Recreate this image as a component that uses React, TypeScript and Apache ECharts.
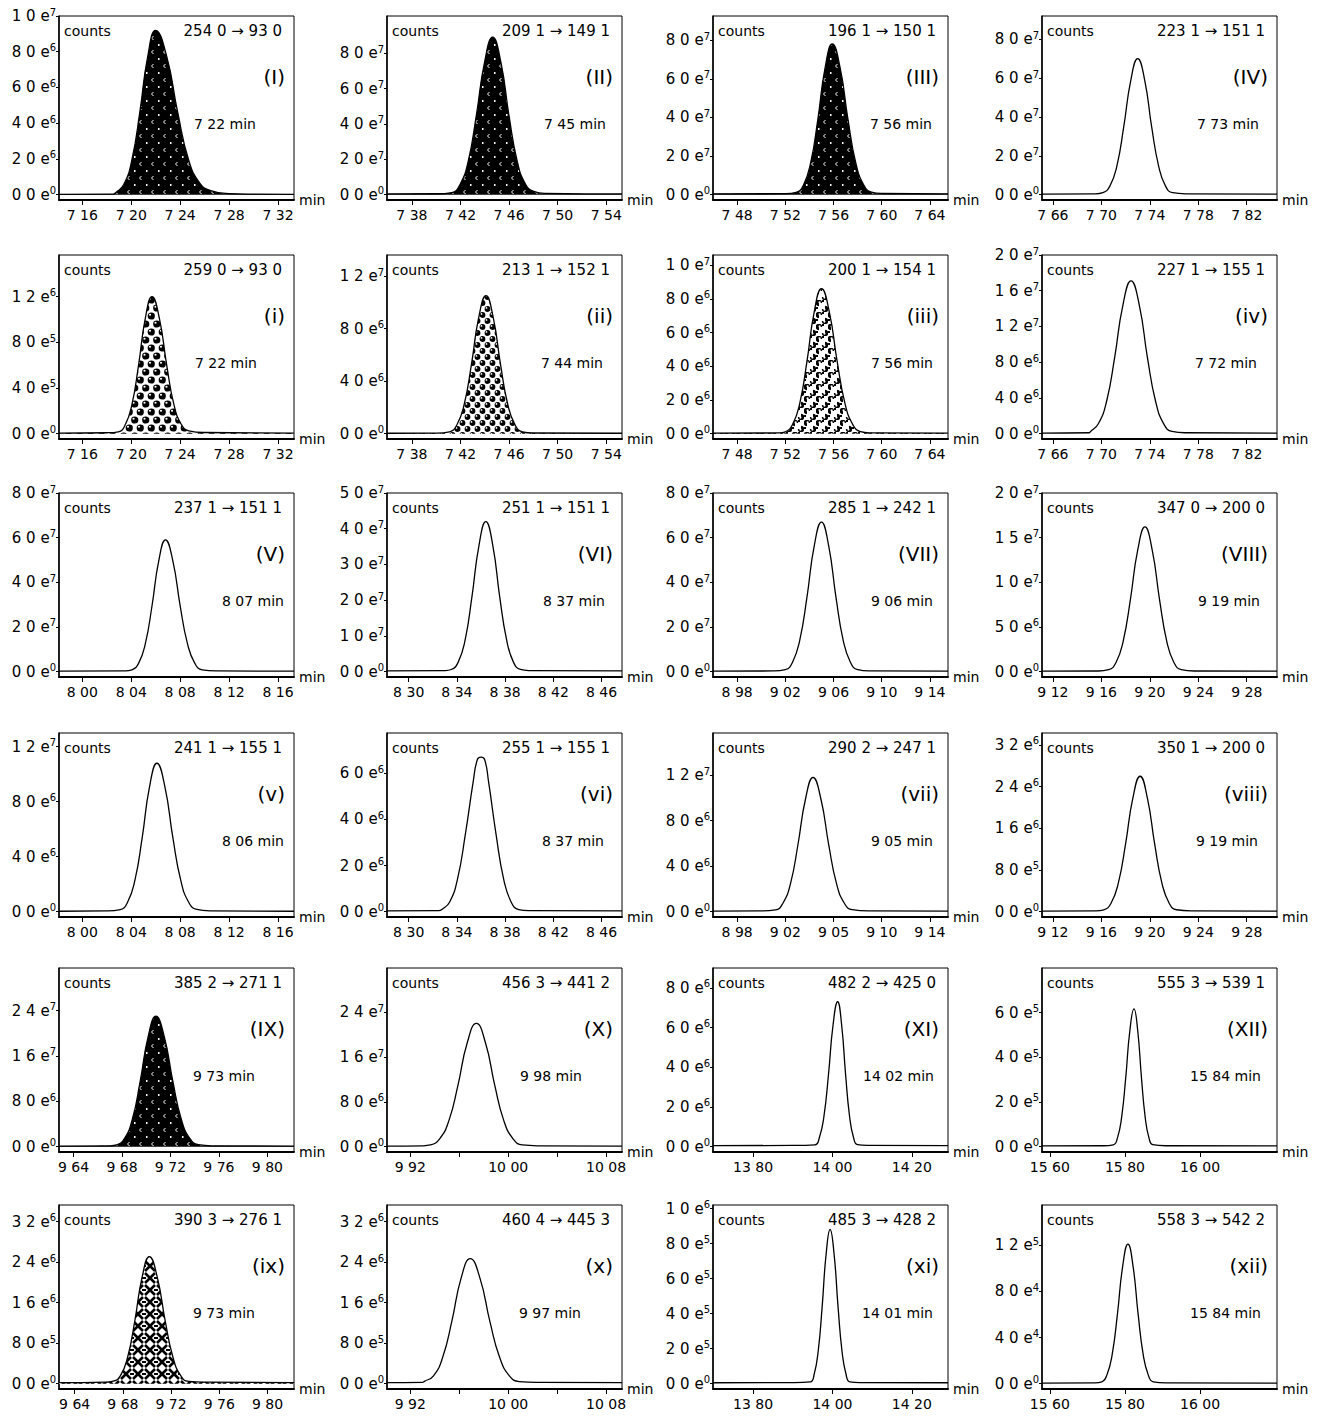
import React, { useEffect, useRef } from "react";
import * as echarts from "echarts";

// ---------- texts ----------
const panelIds = ["(I)", "(II)", "(III)", "(IV)", "(i)", "(ii)", "(iii)", "(iv)", "(V)", "(VI)", "(VII)", "(VIII)", "(v)", "(vi)", "(vii)", "(viii)", "(IX)", "(X)", "(XI)", "(XII)", "(ix)", "(x)", "(xi)", "(xii)"];
const transitions = ["254 0 → 93 0", "209 1 → 149 1", "196 1 → 150 1", "223 1 → 151 1", "259 0 → 93 0", "213 1 → 152 1", "200 1 → 154 1", "227 1 → 155 1", "237 1 → 151 1", "251 1 → 151 1", "285 1 → 242 1", "347 0 → 200 0", "241 1 → 155 1", "255 1 → 155 1", "290 2 → 247 1", "350 1 → 200 0", "385 2 → 271 1", "456 3 → 441 2", "482 2 → 425 0", "555 3 → 539 1", "390 3 → 276 1", "460 4 → 445 3", "485 3 → 428 2", "558 3 → 542 2"];
const retentionLabels = ["7 22 min", "7 45 min", "7 56 min", "7 73 min", "7 22 min", "7 44 min", "7 56 min", "7 72 min", "8 07 min", "8 37 min", "9 06 min", "9 19 min", "8 06 min", "8 37 min", "9 05 min", "9 19 min", "9 73 min", "9 98 min", "14 02 min", "15 84 min", "9 73 min", "9 97 min", "14 01 min", "15 84 min"];

// ---------- x axes ----------
const xRanges: number[][] = [
  [7.141, 7.333], [7.3595, 7.553], [7.46, 7.655], [7.651, 7.845],
  [7.141, 7.333], [7.3595, 7.553], [7.46, 7.655], [7.651, 7.845],
  [7.981, 8.173], [8.282, 8.477], [8.96, 9.155], [9.111, 9.305],
  [7.981, 8.173], [8.282, 8.477], [8.96, 9.155], [9.111, 9.305],
  [9.628, 9.822], [9.901, 10.093], [13.699, 14.291], [15.579, 16.205],
  [9.627, 9.822], [9.901, 10.093], [13.699, 14.291], [15.579, 16.205],
];
const tA = [7.16, 7.2, 7.24, 7.28, 7.32];
const tB = [7.38, 7.42, 7.46, 7.5, 7.54];
const tC = [7.48, 7.52, 7.56, 7.6, 7.64];
const tD = [7.66, 7.7, 7.74, 7.78, 7.82];
const tE = [8.0, 8.04, 8.08, 8.12, 8.16];
const tF = [8.3, 8.34, 8.38, 8.42, 8.46];
const tG = [8.98, 9.02, 9.06, 9.1, 9.14];
const tH = [9.12, 9.16, 9.2, 9.24, 9.28];
const tJ = [9.64, 9.68, 9.72, 9.76, 9.8];
const tK = [9.92, 9.96, 10.0, 10.04, 10.08];
const tKl = [9.92, 10.0, 10.08];
const tL = [13.8, 14.0, 14.2];
const tM = [15.6, 15.8, 16.0];
const xTickVals: number[][] = [tA, tB, tC, tD, tA, tB, tC, tD, tE, tF, tG, tH, tE, tF, tG, tH, tJ, tK, tL, tM, tJ, tK, tL, tM];
const xLabelVals: number[][] = [tA, tB, tC, tD, tA, tB, tC, tD, tE, tF, tG, tH, tE, tF, tG, tH, tJ, tKl, tL, tM, tJ, tKl, tL, tM];
const lA = ["7 16", "7 20", "7 24", "7 28", "7 32"];
const lB = ["7 38", "7 42", "7 46", "7 50", "7 54"];
const lC = ["7 48", "7 52", "7 56", "7 60", "7 64"];
const lD = ["7 66", "7 70", "7 74", "7 78", "7 82"];
const lE = ["8 00", "8 04", "8 08", "8 12", "8 16"];
const lF = ["8 30", "8 34", "8 38", "8 42", "8 46"];
const lG = ["8 98", "9 02", "9 06", "9 10", "9 14"];
const lG2 = ["8 98", "9 02", "9 05", "9 10", "9 14"];
const lH = ["9 12", "9 16", "9 20", "9 24", "9 28"];
const lJ = ["9 64", "9 68", "9 72", "9 76", "9 80"];
const lK = ["9 92", "10 00", "10 08"];
const lL = ["13 80", "14 00", "14 20"];
const lM = ["15 60", "15 80", "16 00"];
const xTickLabels: string[][] = [lA, lB, lC, lD, lA, lB, lC, lD, lE, lF, lG, lH, lE, lF, lG2, lH, lJ, lK, lL, lM, lJ, lK, lL, lM];

// ---------- y axes ----------
const yTops = [1.0e7, 1.01e8, 9.25e7, 9.2e7, 1.565e6, 1.36e7, 1.06e7, 2.0e7, 8.0e7, 5.0e7, 8.0e7, 2.0e7, 1.3e7, 7.75e6, 1.57e7, 3.43e6, 3.15e7, 3.19e7, 9.0e6, 8.0e5, 3.53e6, 3.53e6, 1.02e6, 1.55e5];
const yTickVals: number[][] = [
  [0, 2e6, 4e6, 6e6, 8e6, 1e7], [0, 2e7, 4e7, 6e7, 8e7], [0, 2e7, 4e7, 6e7, 8e7], [0, 2e7, 4e7, 6e7, 8e7],
  [0, 4e5, 8e5, 1.2e6], [0, 4e6, 8e6, 1.2e7], [0, 2e6, 4e6, 6e6, 8e6, 1e7], [0, 4e6, 8e6, 1.2e7, 1.6e7, 2e7],
  [0, 2e7, 4e7, 6e7, 8e7], [0, 1e7, 2e7, 3e7, 4e7, 5e7], [0, 2e7, 4e7, 6e7, 8e7], [0, 5e6, 1e7, 1.5e7, 2e7],
  [0, 4e6, 8e6, 1.2e7], [0, 2e6, 4e6, 6e6], [0, 4e6, 8e6, 1.2e7], [0, 8e5, 1.6e6, 2.4e6, 3.2e6],
  [0, 8e6, 1.6e7, 2.4e7], [0, 8e6, 1.6e7, 2.4e7], [0, 2e6, 4e6, 6e6, 8e6], [0, 2e5, 4e5, 6e5],
  [0, 8e5, 1.6e6, 2.4e6, 3.2e6], [0, 8e5, 1.6e6, 2.4e6, 3.2e6], [0, 2e5, 4e5, 6e5, 8e5, 1e6], [0, 4e4, 8e4, 1.2e5],
];
const yTickLabels: string[][] = [
  ["0 0 e⁰", "2 0 e⁶", "4 0 e⁶", "6 0 e⁶", "8 0 e⁶", "1 0 e⁷"], ["0 0 e⁰", "2 0 e⁷", "4 0 e⁷", "6 0 e⁷", "8 0 e⁷"], ["0 0 e⁰", "2 0 e⁷", "4 0 e⁷", "6 0 e⁷", "8 0 e⁷"], ["0 0 e⁰", "2 0 e⁷", "4 0 e⁷", "6 0 e⁷", "8 0 e⁷"],
  ["0 0 e⁰", "4 0 e⁵", "8 0 e⁵", "1 2 e⁶"], ["0 0 e⁰", "4 0 e⁶", "8 0 e⁶", "1 2 e⁷"], ["0 0 e⁰", "2 0 e⁶", "4 0 e⁶", "6 0 e⁶", "8 0 e⁶", "1 0 e⁷"], ["0 0 e⁰", "4 0 e⁶", "8 0 e⁶", "1 2 e⁷", "1 6 e⁷", "2 0 e⁷"],
  ["0 0 e⁰", "2 0 e⁷", "4 0 e⁷", "6 0 e⁷", "8 0 e⁷"], ["0 0 e⁰", "1 0 e⁷", "2 0 e⁷", "3 0 e⁷", "4 0 e⁷", "5 0 e⁷"], ["0 0 e⁰", "2 0 e⁷", "4 0 e⁷", "6 0 e⁷", "8 0 e⁷"], ["0 0 e⁰", "5 0 e⁶", "1 0 e⁷", "1 5 e⁷", "2 0 e⁷"],
  ["0 0 e⁰", "4 0 e⁶", "8 0 e⁶", "1 2 e⁷"], ["0 0 e⁰", "2 0 e⁶", "4 0 e⁶", "6 0 e⁶"], ["0 0 e⁰", "4 0 e⁶", "8 0 e⁶", "1 2 e⁷"], ["0 0 e⁰", "8 0 e⁵", "1 6 e⁶", "2 4 e⁶", "3 2 e⁶"],
  ["0 0 e⁰", "8 0 e⁶", "1 6 e⁷", "2 4 e⁷"], ["0 0 e⁰", "8 0 e⁶", "1 6 e⁷", "2 4 e⁷"], ["0 0 e⁰", "2 0 e⁶", "4 0 e⁶", "6 0 e⁶", "8 0 e⁶"], ["0 0 e⁰", "2 0 e⁵", "4 0 e⁵", "6 0 e⁵"],
  ["0 0 e⁰", "8 0 e⁵", "1 6 e⁶", "2 4 e⁶", "3 2 e⁶"], ["0 0 e⁰", "8 0 e⁵", "1 6 e⁶", "2 4 e⁶", "3 2 e⁶"], ["0 0 e⁰", "2 0 e⁵", "4 0 e⁵", "6 0 e⁵", "8 0 e⁵", "1 0 e⁶"], ["0 0 e⁰", "4 0 e⁴", "8 0 e⁴", "1 2 e⁵"],
];

// ---------- peak traces [time (min), counts] ----------
const peakI = [[7.141, 0.02e6], [7.185, 0.03e6], [7.1875, 0.12e6], [7.194, 0.58e6], [7.2005, 1.93e6], [7.207, 4.6e6], [7.2135, 7.74e6], [7.22, 9.2e6], [7.229, 7.74e6], [7.238, 4.6e6], [7.247, 1.93e6], [7.256, 0.65e6], [7.265, 0.22e6], [7.28, 0.06e6], [7.3, 0.03e6], [7.333, 0.02e6]];
const peakII = [[7.3595, 0.04e7], [7.4, 0.05e7], [7.4128, 0.12e7], [7.4195, 0.56e7], [7.4263, 1.87e7], [7.433, 4.45e7], [7.4398, 7.48e7], [7.4465, 8.9e7], [7.4533, 7.48e7], [7.46, 4.45e7], [7.4668, 1.87e7], [7.4735, 0.6e7], [7.4803, 0.18e7], [7.49, 0.07e7], [7.553, 0.04e7]];
const peakIII = [[7.46, 0.04e7], [7.52, 0.05e7], [7.529, 0.12e7], [7.535, 0.49e7], [7.541, 1.64e7], [7.547, 3.9e7], [7.553, 6.56e7], [7.559, 7.8e7], [7.5655, 6.56e7], [7.572, 3.9e7], [7.5785, 1.64e7], [7.585, 0.51e7], [7.5915, 0.13e7], [7.6, 0.06e7], [7.655, 0.04e7]];
const peakIV = [[7.651, 0.03e7], [7.695, 0.04e7], [7.7013, 0.1e7], [7.707, 0.44e7], [7.7128, 1.47e7], [7.7185, 3.5e7], [7.7243, 5.89e7], [7.73, 7.0e7], [7.7358, 5.89e7], [7.7415, 3.5e7], [7.7473, 1.47e7], [7.753, 0.44e7], [7.7588, 0.1e7], [7.77, 0.04e7], [7.845, 0.03e7]];
const peak_i = [[7.141, 0.005e6], [7.18, 0.008e6], [7.1895, 0.016e6], [7.195, 0.075e6], [7.2005, 0.25e6], [7.206, 0.6e6], [7.2115, 1.01e6], [7.217, 1.2e6], [7.223, 1.01e6], [7.229, 0.6e6], [7.235, 0.25e6], [7.241, 0.08e6], [7.247, 0.025e6], [7.26, 0.01e6], [7.333, 0.005e6]];
const peak_ii = [[7.3595, 0.03e6], [7.4, 0.04e6], [7.411, 0.14e6], [7.417, 0.66e6], [7.423, 2.2e6], [7.429, 5.25e6], [7.435, 8.83e6], [7.441, 10.5e6], [7.447, 8.83e6], [7.453, 5.25e6], [7.459, 2.2e6], [7.465, 0.66e6], [7.471, 0.14e6], [7.48, 0.05e6], [7.553, 0.03e6]];
const peak_iii = [[7.46, 0.03e6], [7.515, 0.04e6], [7.52, 0.11e6], [7.526, 0.54e6], [7.532, 1.8e6], [7.538, 4.3e6], [7.544, 7.23e6], [7.55, 8.6e6], [7.5565, 7.23e6], [7.563, 4.3e6], [7.5695, 1.8e6], [7.576, 0.54e6], [7.5825, 0.12e6], [7.59, 0.05e6], [7.655, 0.03e6]];
const peak_iv = [[7.651, 0.005e7], [7.69, 0.01e7], [7.6908, 0.02e7], [7.6975, 0.11e7], [7.7043, 0.36e7], [7.711, 0.855e7], [7.7178, 1.44e7], [7.7245, 1.71e7], [7.7313, 1.44e7], [7.738, 0.855e7], [7.7448, 0.36e7], [7.7515, 0.11e7], [7.7583, 0.025e7], [7.77, 0.01e7], [7.845, 0.005e7]];
const peakV = [[7.981, 0.02e7], [8.035, 0.03e7], [8.0405, 0.08e7], [8.046, 0.37e7], [8.0515, 1.24e7], [8.057, 2.95e7], [8.0625, 4.96e7], [8.068, 5.9e7], [8.074, 4.96e7], [8.08, 2.95e7], [8.086, 1.24e7], [8.092, 0.37e7], [8.098, 0.08e7], [8.11, 0.03e7], [8.173, 0.02e7]];
const peakVI = [[8.282, 0.02e7], [8.33, 0.03e7], [8.3353, 0.06e7], [8.341, 0.26e7], [8.3468, 0.88e7], [8.3525, 2.1e7], [8.3583, 3.53e7], [8.364, 4.2e7], [8.3698, 3.53e7], [8.3755, 2.1e7], [8.3813, 0.88e7], [8.387, 0.26e7], [8.3928, 0.06e7], [8.4, 0.03e7], [8.477, 0.02e7]];
const peakVII = [[8.96, 0.02e7], [9.01, 0.03e7], [9.02, 0.09e7], [9.026, 0.42e7], [9.032, 1.41e7], [9.038, 3.35e7], [9.044, 5.63e7], [9.05, 6.7e7], [9.056, 5.63e7], [9.062, 3.35e7], [9.068, 1.41e7], [9.074, 0.42e7], [9.08, 0.09e7], [9.09, 0.03e7], [9.155, 0.02e7]];
const peakVIII = [[9.111, 0.005e7], [9.157, 0.007e7], [9.166, 0.022e7], [9.172, 0.1e7], [9.178, 0.34e7], [9.184, 0.81e7], [9.19, 1.36e7], [9.196, 1.62e7], [9.202, 1.36e7], [9.208, 0.81e7], [9.214, 0.34e7], [9.22, 0.1e7], [9.226, 0.022e7], [9.237, 0.007e7], [9.305, 0.005e7]];
const peak_v = [[7.981, 0.003e7], [8.02, 0.005e7], [8.031, 0.015e7], [8.037, 0.068e7], [8.043, 0.227e7], [8.049, 0.54e7], [8.055, 0.91e7], [8.061, 1.08e7], [8.0675, 0.91e7], [8.074, 0.54e7], [8.0805, 0.227e7], [8.087, 0.068e7], [8.0935, 0.016e7], [8.105, 0.006e7], [8.173, 0.003e7]];
const peak_vi = [[8.282, 0.03e6], [8.325, 0.04e6], [8.3275, 0.09e6], [8.334, 0.42e6], [8.3405, 1.41e6], [8.347, 3.35e6], [8.3535, 5.63e6], [8.357, 6.6e6], [8.36, 6.7e6], [8.363, 6.6e6], [8.3663, 5.63e6], [8.3725, 3.35e6], [8.3788, 1.41e6], [8.385, 0.42e6], [8.3913, 0.09e6], [8.4, 0.04e6], [8.477, 0.03e6]];
const peak_vii = [[8.96, 0.004e7], [9.0, 0.006e7], [9.0118, 0.015e7], [9.018, 0.074e7], [9.0243, 0.246e7], [9.0305, 0.59e7], [9.0368, 0.992e7], [9.043, 1.18e7], [9.0495, 0.992e7], [9.056, 0.59e7], [9.0625, 0.246e7], [9.069, 0.074e7], [9.0755, 0.017e7], [9.09, 0.006e7], [9.155, 0.004e7]];
const peak_viii = [[9.111, 0.01e6], [9.155, 0.016e6], [9.162, 0.036e6], [9.168, 0.162e6], [9.174, 0.546e6], [9.18, 1.3e6], [9.186, 2.18e6], [9.192, 2.6e6], [9.198, 2.18e6], [9.204, 1.3e6], [9.21, 0.546e6], [9.216, 0.162e6], [9.222, 0.036e6], [9.235, 0.016e6], [9.305, 0.01e6]];
const peakIX = [[9.628, 0.01e7], [9.67, 0.015e7], [9.6755, 0.03e7], [9.682, 0.144e7], [9.6885, 0.48e7], [9.695, 1.15e7], [9.7015, 1.93e7], [9.708, 2.3e7], [9.715, 1.93e7], [9.722, 1.15e7], [9.729, 0.48e7], [9.736, 0.144e7], [9.743, 0.035e7], [9.755, 0.015e7], [9.822, 0.01e7]];
const peakX = [[9.901, 0.01e7], [9.93, 0.015e7], [9.9365, 0.03e7], [9.944, 0.14e7], [9.9515, 0.46e7], [9.959, 1.1e7], [9.9665, 1.85e7], [9.974, 2.2e7], [9.9815, 1.85e7], [9.989, 1.1e7], [9.9965, 0.46e7], [10.004, 0.14e7], [10.0115, 0.03e7], [10.025, 0.015e7], [10.093, 0.01e7]];
const peakXI = [[13.699, 0.05e6], [13.9, 0.06e6], [13.9555, 0.09e6], [13.967, 0.46e6], [13.9785, 1.53e6], [13.99, 3.65e6], [14.0015, 6.14e6], [14.013, 7.3e6], [14.023, 6.14e6], [14.033, 3.65e6], [14.043, 1.53e6], [14.053, 0.46e6], [14.063, 0.1e6], [14.09, 0.06e6], [14.291, 0.05e6]];
const peakXII = [[15.579, 0.03e5], [15.74, 0.04e5], [15.769, 0.08e5], [15.78, 0.39e5], [15.791, 1.3e5], [15.802, 3.08e5], [15.813, 5.19e5], [15.824, 6.17e5], [15.834, 5.19e5], [15.844, 3.08e5], [15.854, 1.3e5], [15.864, 0.39e5], [15.874, 0.09e5], [15.91, 0.04e5], [16.205, 0.03e5]];
const peak_ix = [[9.627, 0.02e6], [9.665, 0.03e6], [9.672, 0.05e6], [9.678, 0.157e6], [9.684, 0.527e6], [9.69, 1.255e6], [9.696, 2.11e6], [9.702, 2.51e6], [9.7085, 2.11e6], [9.715, 1.255e6], [9.7215, 0.527e6], [9.728, 0.157e6], [9.7345, 0.045e6], [9.75, 0.03e6], [9.822, 0.02e6]];
const peak_x = [[9.901, 0.02e6], [9.93, 0.025e6], [9.9315, 0.045e6], [9.939, 0.154e6], [9.9465, 0.52e6], [9.954, 1.235e6], [9.9615, 2.08e6], [9.969, 2.47e6], [9.977, 2.08e6], [9.985, 1.235e6], [9.993, 0.52e6], [10.001, 0.154e6], [10.009, 0.04e6], [10.025, 0.025e6], [10.093, 0.02e6]];
const peak_xi = [[13.699, 0.05e5], [13.9, 0.06e5], [13.944, 0.1e5], [13.954, 0.55e5], [13.964, 1.85e5], [13.974, 4.4e5], [13.984, 7.4e5], [13.994, 8.8e5], [14.004, 7.4e5], [14.014, 4.4e5], [14.024, 1.85e5], [14.034, 0.55e5], [14.044, 0.1e5], [14.07, 0.06e5], [14.291, 0.05e5]];
const peak_xii = [[15.579, 0.05e4], [15.72, 0.07e4], [15.738, 0.16e4], [15.752, 0.76e4], [15.766, 2.54e4], [15.78, 6.05e4], [15.794, 10.2e4], [15.808, 12.1e4], [15.8215, 10.2e4], [15.835, 6.05e4], [15.8485, 2.54e4], [15.862, 0.76e4], [15.8755, 0.16e4], [15.91, 0.07e4], [16.205, 0.05e4]];

const peaks = [peakI, peakII, peakIII, peakIV, peak_i, peak_ii, peak_iii, peak_iv, peakV, peakVI, peakVII, peakVIII, peak_v, peak_vi, peak_vii, peak_viii, peakIX, peakX, peakXI, peakXII, peak_ix, peak_x, peak_xi, peak_xii];
const fills: (string | null)[] = ["dark", "dark", "dark", null, "balls", "rings", "swirl", null, null, null, null, null, null, null, null, null, "dark", null, null, null, "cross", null, null, null];

// ---------- layout ----------
const FONT = "'DejaVu Sans', 'Liberation Sans', sans-serif";
const COL_LEFT = [59, 387, 713, 1042];
const ROW_TOP = [16, 255, 493, 733, 968, 1205];
const PW = 235;
const PH = 184;
const rtRight = [38, 16, 16, 18, 37, 19, 15, 20, 10, 17, 15, 17, 10, 18, 15, 19, 39, 40, 14, 16, 39, 41, 15, 16];
const SUP: Record<string, string> = { "⁰": "0", "¹": "1", "²": "2", "³": "3", "⁴": "4", "⁵": "5", "⁶": "6", "⁷": "7", "⁸": "8", "⁹": "9" };

function tile(w: number, h: number, draw: (c: CanvasRenderingContext2D) => void) {
  const cv = document.createElement("canvas");
  cv.width = w;
  cv.height = h;
  const ctx = cv.getContext("2d") as CanvasRenderingContext2D;
  draw(ctx);
  return { image: cv, repeat: "repeat", imageWidth: w, imageHeight: h } as any;
}

function disk(c: CanvasRenderingContext2D, x: number, y: number, r: number, col: string) {
  c.fillStyle = col;
  c.beginPath();
  c.arc(x, y, r, 0, Math.PI * 2);
  c.fill();
}

function makePatterns() {
  const dark = tile(12, 14, (c) => {
    c.fillStyle = "#000";
    c.fillRect(0, 0, 12, 14);
    c.fillStyle = "#fff";
    c.fillRect(2, 2, 1.5, 2);
    c.strokeStyle = "#fff";
    c.lineWidth = 1;
    c.beginPath();
    c.moveTo(9.5, 8);
    c.lineTo(7.5, 10);
    c.lineTo(9.5, 12);
    c.stroke();
  });
  const ball = (c: CanvasRenderingContext2D, x: number, y: number, r: number) => {
    disk(c, x, y, r, "#000");
    disk(c, x - r * 0.35, y - r * 0.35, r * 0.3, "#fff");
  };
  const balls = tile(11, 16, (c) => {
    c.fillStyle = "#fff";
    c.fillRect(0, 0, 11, 16);
    ball(c, 2.75, 4, 3.6);
    ball(c, 13.75, 4, 3.6);
    ball(c, 8.25, 12, 3.6);
    ball(c, -2.75, 12, 3.6);
  });
  const rings = tile(10, 12, (c) => {
    c.fillStyle = "#fff";
    c.fillRect(0, 0, 10, 12);
    ball(c, 2.5, 3, 2.9);
    ball(c, 7.5, 9, 2.9);
    ball(c, 12.5, 3, 2.9);
    ball(c, -2.5, 9, 2.9);
  });
  const swirl = tile(12, 12, (c) => {
    c.fillStyle = "#fff";
    c.fillRect(0, 0, 12, 12);
    c.fillStyle = "#000";
    c.beginPath();
    c.arc(3, 3, 3.2, Math.PI * 0.5, Math.PI * 2);
    c.lineTo(3, 3);
    c.closePath();
    c.fill();
    c.beginPath();
    c.arc(9, 9, 3.2, Math.PI * 1.5, Math.PI * 3);
    c.lineTo(9, 9);
    c.closePath();
    c.fill();
    disk(c, 3.6, 2.4, 1.1, "#fff");
    disk(c, 8.4, 9.6, 1.1, "#fff");
    c.fillStyle = "#000";
    c.fillRect(6, 0, 2, 2);
    c.fillRect(0, 7, 2, 2);
  });
  const cross = tile(12, 12, (c) => {
    c.fillStyle = "#fff";
    c.fillRect(0, 0, 12, 12);
    c.strokeStyle = "#000";
    c.lineWidth = 2.6;
    c.beginPath();
    c.moveTo(1, 1);
    c.lineTo(11, 11);
    c.moveTo(11, 1);
    c.lineTo(1, 11);
    c.stroke();
    c.fillStyle = "#000";
    c.fillRect(0, 5, 2, 2);
    c.fillRect(10, 5, 2, 2);
  });
  return { dark, balls, rings, swirl, cross } as Record<string, any>;
}

function lookup(vals: number[], labels: string[], v: number, scale: number) {
  for (let i = 0; i < vals.length; i++) {
    if (Math.abs(vals[i] - v) <= scale * 1e-6) return labels[i];
  }
  return "";
}

function supLabel(s: string) {
  if (!s) return "";
  const last = s.slice(-1);
  if (SUP[last] === undefined) return `{m|${s}}`;
  return `{m|${s.slice(0, -1)}}{s|${SUP[last]}}`;
}

export default function App() {
  const ref = useRef<HTMLDivElement>(null);
  useEffect(() => {
    if (!ref.current) return;
    const chart = echarts.init(ref.current, null, { renderer: "svg" });
    const pats = makePatterns();
    const grids: any[] = [];
    const xAxes: any[] = [];
    const yAxes: any[] = [];
    const series: any[] = [];
    const graphics: any[] = [];
    for (let p = 0; p < 24; p++) {
      const r = Math.floor(p / 4);
      const c = p % 4;
      const L = COL_LEFT[c];
      const T = ROW_TOP[r];
      grids.push({ left: L, top: T, width: PW, height: PH, show: true, borderColor: "#000", borderWidth: 1, backgroundColor: "transparent" });
      const xr = xRanges[p];
      xAxes.push({
        type: "value",
        gridIndex: p,
        min: xr[0],
        max: xr[1],
        name: "min",
        nameLocation: "end",
        nameGap: 5,
        nameTextStyle: { color: "#000", fontSize: 14, fontFamily: FONT, padding: [8, 0, 0, 0] },
        axisLine: { show: true, onZero: false, lineStyle: { color: "#000", width: 2 } },
        axisTick: { show: true, customValues: xTickVals[p], length: 5, lineStyle: { color: "#000", width: 1 } },
        axisLabel: {
          customValues: xLabelVals[p],
          formatter: (v: number) => lookup(xLabelVals[p], xTickLabels[p], v, 1),
          color: "#000",
          fontSize: 14,
          fontFamily: FONT,
          margin: 8,
        },
        splitLine: { show: false },
      });
      const top = yTops[p];
      yAxes.push({
        type: "value",
        gridIndex: p,
        min: -0.03 * top,
        max: top,
        axisLine: { show: true, lineStyle: { color: "#000", width: 1.5 } },
        axisTick: { show: true, customValues: yTickVals[p], length: 3, lineStyle: { color: "#000", width: 1 } },
        axisLabel: {
          customValues: yTickVals[p],
          formatter: (v: number) => supLabel(lookup(yTickVals[p], yTickLabels[p], v, top)),
          color: "#000",
          fontSize: 15,
          fontFamily: FONT,
          margin: 3,
          rich: {
            m: { fontSize: 15, fontFamily: FONT, color: "#000" },
            s: { fontSize: 10, fontFamily: FONT, color: "#000", padding: [0, 0, 8, 0] },
          },
        },
        splitLine: { show: false },
      });
      const f = fills[p];
      series.push({
        type: "line",
        xAxisIndex: p,
        yAxisIndex: p,
        data: peaks[p],
        showSymbol: false,
        smooth: 0.5,
        lineStyle: { color: "#000", width: 1.3 },
        areaStyle: f ? { color: pats[f], opacity: 1 } : undefined,
        z: 3,
      });
      const txt = (x: number, y: number, text: string, size: number, align: string) => ({
        type: "text",
        x,
        y,
        z: 20,
        style: { text, fill: "#000", fontSize: size, fontFamily: FONT, align, textAlign: align, verticalAlign: "middle", textVerticalAlign: "middle" },
      });
      graphics.push(txt(L + 5, T + 15, "counts", 14, "left"));
      graphics.push(txt(L + PW - 12, T + 15, transitions[p], 15, "right"));
      graphics.push(txt(L + PW - 9, T + 61, panelIds[p], 20, "right"));
      graphics.push(txt(L + PW - rtRight[p], T + 108, retentionLabels[p], 14, "right"));
    }
    chart.setOption({
      animation: false,
      backgroundColor: "#fff",
      grid: grids,
      xAxis: xAxes,
      yAxis: yAxes,
      series,
      graphic: graphics,
    });
    return () => chart.dispose();
  }, []);
  return <div ref={ref} style={{ position: "absolute", left: 0, top: 0, width: 1320, height: 1417 }} />;
}
